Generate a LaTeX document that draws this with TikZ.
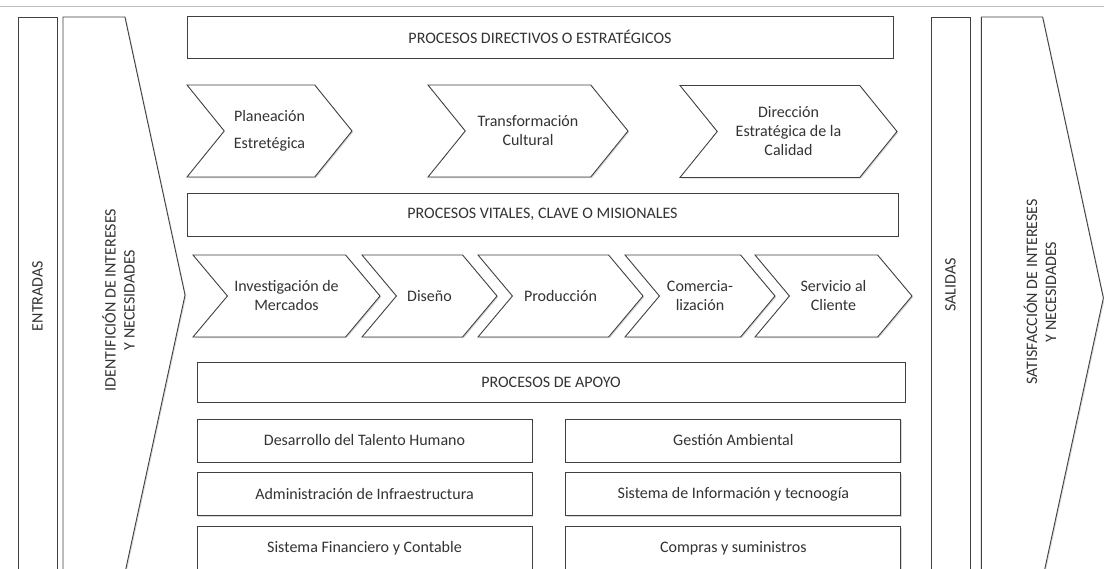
\documentclass[tikz,border=0pt]{standalone}
\usepackage{fontspec}
\setmainfont{Carlito}
\usetikzlibrary{positioning,shapes.symbols,shadows}
\newcommand{\procfont}{\fontsize{16}{19}\selectfont}
\tikzset{
  box/.style={rectangle, draw=black!75, line width=0.9pt, fill=white, inner sep=0pt,
    text=black!80, font=\procfont, align=center,
    drop shadow={shadow xshift=1.2pt, shadow yshift=-1.2pt, fill=black!30, opacity=0.5}},
  chev/.style={box, shape=signal, signal from=west, signal to=east},
  pent/.style={box, shape=signal, signal to=east, signal pointer angle=155.6, minimum width=122},
  stripe/.style={box, minimum width=39, minimum height=566},
  vtext/.style={font=\procfont, text=black!80, rotate=90, align=center},
  title/.style={box, minimum height=42},
  sbox/.style={box, minimum width=335, minimum height=43}
}
\begin{document}
\begin{tikzpicture}[x=1pt, y=-1pt]
  \useasboundingbox (0,0) rectangle (1104,569);
  \clip (0,0) rectangle (1104,569);
  \draw[black!25, line width=1pt] (0,7) -- (1104,7);

  % entradas / salidas
  \node[stripe, label={[yshift=4, vtext]center:ENTRADAS}] (entradas) at (37.5,300) {};
  \node[pent, minimum height=556,
    label={[xshift=24.5, yshift=-5, vtext]center:IDENTIFICIÓN DE INTERESES\\Y NECESIDADES}] (identif) at (94,295) {};
  \node[stripe, label={[yshift=15, vtext]center:SALIDAS}] (salidas) at (950.5,300) {};
  \node[pent, minimum height=562,
    label={[xshift=28, yshift=6, vtext]center:SATISFACCIÓN DE INTERESES\\Y NECESIDADES}] (satisf) at (1012,298) {};

  % procesos directivos
  \node[title, minimum width=706] (directivos) at (540,37) {PROCESOS DIRECTIVOS O ESTRATÉGICOS};
  \node[chev, minimum width=165, minimum height=92, signal pointer angle=102] (planea) at (269.5,131)
    {Planeación\\[8pt]Estretégica};
  \node[chev, minimum width=200, minimum height=92, signal pointer angle=102] (cultura) at (528,131)
    {Transformación\\Cultural};
  \node[chev, minimum width=217, minimum height=92, signal pointer angle=102] (calidad) at (788.5,131.5)
    {Dirección\\Estratégica de la\\Calidad};

  % procesos misionales
  \node[title, minimum width=711, minimum height=43] (vitales) at (542.5,214.5) {PROCESOS VITALES, CLAVE O MISIONALES};
  \node[chev, minimum width=187, minimum height=82, signal pointer angle=100] (invest) at (286.5,296)
    {Investigación de\\Mercados};
  \node[chev, minimum width=135, minimum height=82, signal pointer angle=100] (diseno) at (429.5,296)
    {Diseño};
  \node[chev, minimum width=165, minimum height=82, signal pointer angle=100] (produc) at (560.5,296)
    {Producción};
  \node[chev, minimum width=150, minimum height=82, signal pointer angle=100] (comerc) at (700,296)
    {Comercia-\\lización};
  \node[chev, minimum width=157, minimum height=82, signal pointer angle=100] (servic) at (833.5,296)
    {Servicio al\\Cliente};

  % procesos de apoyo
  \node[title, minimum width=708, minimum height=40] (apoyo) at (551,382) {PROCESOS DE APOYO};
  \node[sbox] (talento) at (364.5,440.5) {Desarrollo del Talento Humano};
  \node[sbox, below=10pt of talento] (infra) {Administración de Infraestructura};
  \node[sbox, below=10pt of infra] (financ) {Sistema Financiero y Contable};
  \node[sbox, right=33pt of talento] (ambient) {Gestión Ambiental};
  \node[sbox, below=10pt of ambient] (sistinf) {Sistema de Información y tecnoogía};
  \node[sbox, below=10pt of sistinf] (compras) {Compras y suministros};
\end{tikzpicture}
\end{document}
